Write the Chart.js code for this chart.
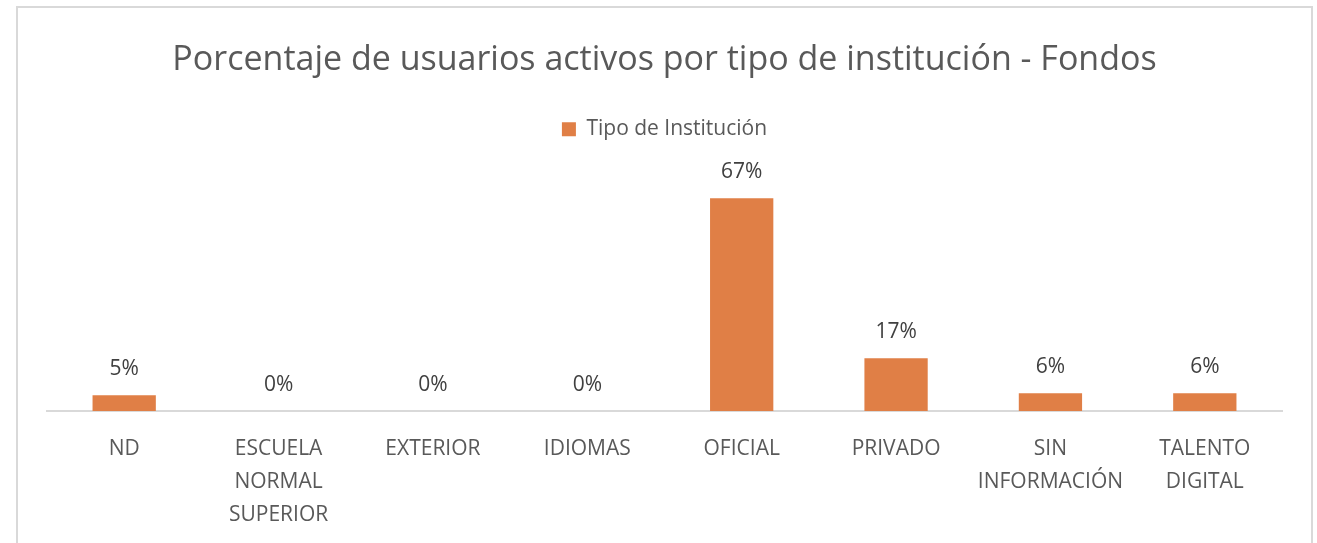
<!DOCTYPE html>
<html>
<head>
<meta charset="utf-8">
<style>
  html, body { margin: 0; padding: 0; background: #fff; }
  #wrap { width: 1317px; height: 543px; }
</style>
<script src="https://cdn.jsdelivr.net/npm/chart.js@4/dist/chart.umd.min.js"></script>
</head>
<body>
<div id="wrap"><canvas id="myChart" width="1317" height="543"></canvas></div>
<script>
const categories = ['ND', ['ESCUELA', 'NORMAL', 'SUPERIOR'], 'EXTERIOR', 'IDIOMAS', 'OFICIAL', 'PRIVADO', ['SIN', 'INFORMACIÓN'], ['TALENTO', 'DIGITAL']];
const values = [5, 0, 0, 0, 67, 16.6, 5.6, 5.6];
const seriesName = 'Tipo de Institución';
const chartTitle = 'Porcentaje de usuarios activos por tipo de institución - Fondos';

const FONT = "'Open Sans', 'Liberation Sans', sans-serif";

// white background + light grey frame like the excel chart border
const framePlugin = {
  id: 'frame',
  beforeDraw(chart) {
    const c = chart.ctx;
    c.save();
    c.fillStyle = '#fff';
    c.fillRect(0, 0, chart.width, chart.height);
    c.strokeStyle = '#d9d9d9';
    c.lineWidth = 2;
    c.strokeRect(17, 7, 1295, 600);
    c.restore();
  }
};

// value labels above the bars
const valueLabels = {
  id: 'valueLabels',
  afterDatasetsDraw(chart) {
    const c = chart.ctx;
    const meta = chart.getDatasetMeta(0);
    c.save();
    c.font = '21px ' + FONT;
    c.fillStyle = '#404040';
    c.textAlign = 'center';
    c.textBaseline = 'middle';
    meta.data.forEach((bar, i) => {
      c.fillText(Math.round(values[i]) + '%', bar.x, bar.y - 26);
    });
    c.restore();
  }
};

const ctx = document.getElementById('myChart').getContext('2d');
const myChart = new Chart(ctx, {
  type: 'bar',
  data: {
    labels: categories,
    datasets: [{
      label: seriesName,
      data: values,
      backgroundColor: '#E07F46',
      borderWidth: 0,
      barPercentage: 0.41,
      categoryPercentage: 1
    }]
  },
  options: {
    responsive: false,
    animation: false,
    layout: { padding: { left: 47, right: 35, top: 0, bottom: 0 } },
    plugins: {
      title: {
        display: true,
        text: chartTitle,
        color: '#595959',
        font: { family: FONT, size: 34, weight: '400', lineHeight: 1.2 },
        padding: { top: 40, bottom: 28 }
      },
      legend: {
        display: true,
        labels: {
          color: '#595959',
          font: { family: FONT, size: 21 },
          boxWidth: 14,
          boxHeight: 14,
          padding: 10
        }
      },
      tooltip: { enabled: false }
    },
    scales: {
      x: {
        grid: { display: false },
        border: { display: true, color: '#d9d9d9', width: 2 },
        ticks: {
          color: '#595959',
          font: { family: FONT, size: 21, lineHeight: 1.57 },
          padding: 14,
          maxRotation: 0,
          autoSkip: false
        },
        afterFit(scale) { scale.height = 132; }
      },
      y: {
        display: false,
        min: 0,
        max: 82.3
      }
    }
  },
  plugins: [framePlugin, valueLabels]
});
</script>
</body>
</html>
